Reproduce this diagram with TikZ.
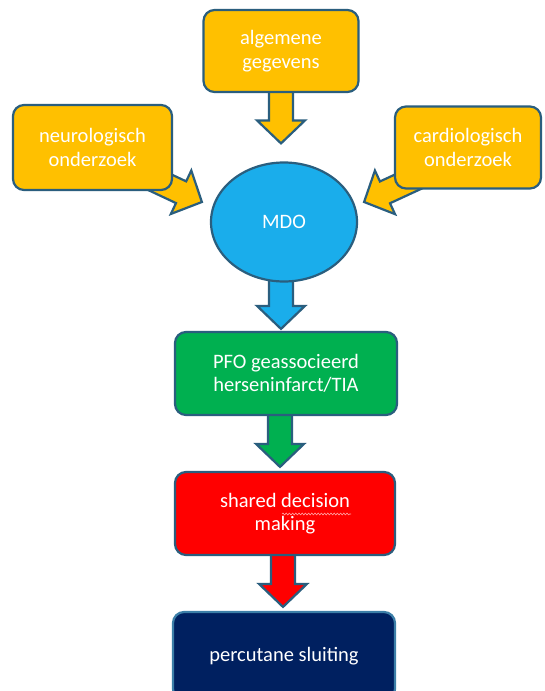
\documentclass[tikz,border=0pt]{standalone}
\usepackage{fontspec}
\setmainfont{Carlito}
\usetikzlibrary{calc,backgrounds,shapes.geometric,decorations.pathmorphing}
\definecolor{gold}{HTML}{FFC000}
\definecolor{skyb}{HTML}{1AADEB}
\definecolor{grn}{HTML}{00B050}
\definecolor{rd}{HTML}{FF0000}
\definecolor{navy}{HTML}{002060}
\definecolor{edgec}{HTML}{2A5E7E}
\definecolor{edgeb}{HTML}{3C7FA8}
% block arrow: #1 start, #2 tip, #3 fill colour, #4 name prefix
\newcommand\blockarrow[4]{%
  \coordinate (#4h) at ($(#2)!23pt!(#1)$);
  \draw[blk, fill=#3] ($(#1)!12pt!90:(#2)$) -- ($(#4h)!12pt!90:(#2)$) -- ($(#4h)!24pt!90:(#2)$) -- (#2)
     -- ($(#4h)!24pt!-90:(#2)$) -- ($(#4h)!12pt!-90:(#2)$) -- ($(#1)!12pt!-90:(#2)$) -- cycle;
}
\begin{document}
\begin{tikzpicture}[x=1pt,y=-1pt,
  box/.style={draw=edgec, line width=2.2pt, rounded corners=11pt, text=white, align=center,
    font=\fontsize{20.5}{23.5}\selectfont, inner sep=0pt},
  blk/.style={draw=edgec, line width=2.2pt, line join=miter},
  squig/.style={draw=red!35!white, line width=0.6pt, decorate,
    decoration={snake, amplitude=0.9pt, segment length=3.2pt}}]
\useasboundingbox (0,0) rectangle (544,691);
\node[box, fill=gold, minimum width=155pt, minimum height=82pt] (alg) at (281,51) {algemene\\gegevens};
\node[box, fill=gold, minimum width=159pt, minimum height=85pt] (neuro) at (92.5,147.5) {neurologisch\\onderzoek};
\node[box, fill=gold, minimum width=146pt, minimum height=82pt] (cardio) at (468,147.5) {cardiologisch\\onderzoek};
\node[ellipse, draw=edgec, line width=2.2pt, fill=skyb, text=white, minimum width=146pt, minimum height=119pt,
  inner sep=0pt, font=\fontsize{20.5}{23.5}\selectfont] (mdo) at (284,222) {MDO};
\node[box, fill=grn, minimum width=222pt, minimum height=83pt] (pfo) at (286,373.5) {PFO geassocieerd\\herseninfarct/TIA};
\node[box, fill=rd, minimum width=220pt, minimum height=83pt] (sdm) at (285,513.5) {shared decision\\making};
\node[box, fill=navy, draw=edgeb, minimum width=222pt, minimum height=88pt] (perc) at (284,656) {percutane sluiting};
\coordinate (sq1) at ([xshift=-3pt,yshift=-0.5pt]sdm.center);
\coordinate (sq2) at ([xshift=66pt,yshift=-0.5pt]sdm.center);
\draw[squig] (sq1) -- (sq2);
\begin{pgfonlayer}{background}
  \fill[white] (0,0) rectangle (544,691);
  \coordinate (a1s) at ([yshift=6pt]alg.south);
  \coordinate (a1x) at (a1s |- mdo.north);
  \coordinate (a1t) at ([yshift=18pt]a1x);
  \blockarrow{a1s}{a1t}{gold}{a1}
  \coordinate (n1s) at ([xshift=-37pt,yshift=20pt]neuro.south east);
  \coordinate (n1t) at ([xshift=-8pt,yshift=20pt]mdo.west);
  \blockarrow{n1s}{n1t}{gold}{n1}
  \coordinate (c1s) at ([xshift=36pt,yshift=18pt]cardio.south west);
  \coordinate (c1t) at ([xshift=6pt,yshift=20pt]mdo.east);
  \blockarrow{c1s}{c1t}{gold}{c1}
  \coordinate (m1s) at ([xshift=-3pt,yshift=6pt]mdo.south);
  \coordinate (m1x) at (m1s |- pfo.north);
  \coordinate (m1t) at ([yshift=2pt]m1x);
  \blockarrow{m1s}{m1t}{skyb}{m1}
  \coordinate (p1s) at ([xshift=-6pt,yshift=6pt]pfo.south);
  \coordinate (p1x) at (p1s |- sdm.north);
  \coordinate (p1t) at ([yshift=4pt]p1x);
  \blockarrow{p1s}{p1t}{grn}{p1}
  \coordinate (s1s) at ([xshift=-2pt,yshift=6pt]sdm.south);
  \coordinate (s1x) at (s1s |- perc.north);
  \coordinate (s1t) at ([yshift=4pt]s1x);
  \blockarrow{s1s}{s1t}{rd}{s1}
\end{pgfonlayer}
\end{tikzpicture}
\end{document}
